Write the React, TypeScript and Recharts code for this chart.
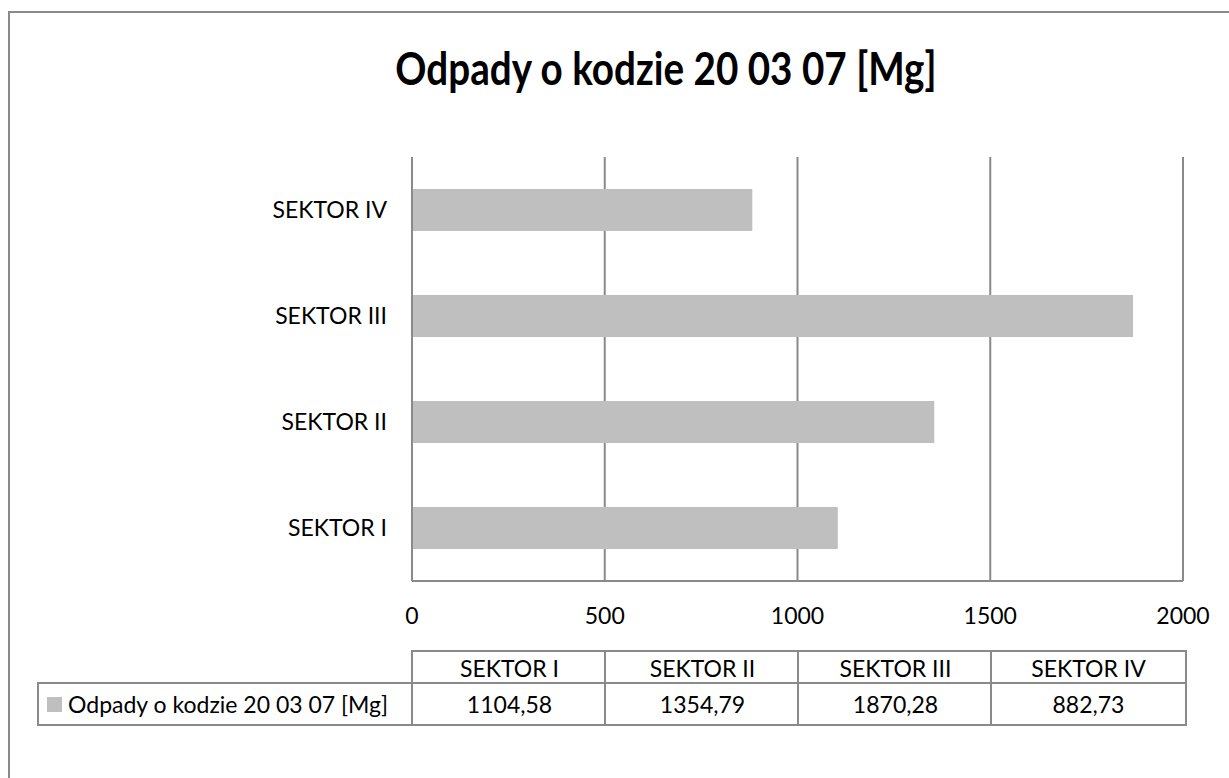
import { BarChart, Bar, XAxis, YAxis, CartesianGrid } from 'recharts';

const title = 'Odpady o kodzie 20 03 07 [Mg]';
const seriesName = 'Odpady o kodzie 20 03 07 [Mg]';
const sectors = ['SEKTOR I', 'SEKTOR II', 'SEKTOR III', 'SEKTOR IV'];
const values = [1104.58, 1354.79, 1870.28, 882.73];
const xTicks = [0, 500, 1000, 1500, 2000];

const data = sectors.map((name, i) => ({ name, value: values[i] }));

const font = 'Lato, "Open Sans", sans-serif';
const grid = '#8a8a8a';
const barColor = '#bfbfbf';

const fmt = (v: number) => v.toFixed(2).replace('.', ',');

// table columns line up with the gridlines
const plotLeft = 412;
const colW = 193;

export default function App() {
  return (
    <div
      style={{
        position: 'relative',
        width: 1229,
        height: 778,
        overflow: 'hidden',
        background: '#fff',
        fontFamily: font,
      }}
    >
      <style>{'html,body{margin:0;padding:0;overflow:hidden}'}</style>

      {/* chart frame, runs off the right and bottom of the page */}
      <div
        style={{
          position: 'absolute',
          left: 8,
          top: 11,
          width: 1400,
          height: 1000,
          borderLeft: `2px solid ${grid}`,
          borderTop: `2px solid ${grid}`,
        }}
      />

      <div
        style={{
          position: 'absolute',
          left: 0,
          top: 38,
          width: 1332,
          textAlign: 'center',
          fontSize: 46,
          fontWeight: 700,
          lineHeight: '60px',
          color: '#000',
          transform: 'scaleX(0.84)',
          transformOrigin: '666px 0',
        }}
      >
        {title}
      </div>

      <div style={{ position: 'absolute', left: 0, top: 0 }}>
        <BarChart
          width={1229}
          height={778}
          data={data}
          layout="vertical"
          margin={{ top: 157, right: 46, bottom: 157, left: plotLeft - 150 }}
        >
          <CartesianGrid horizontal={false} stroke={grid} strokeWidth={2} />
          <XAxis
            type="number"
            domain={[0, 2000]}
            ticks={xTicks}
            height={40}
            tickSize={0}
            tickMargin={27}
            axisLine={{ stroke: grid, strokeWidth: 2 }}
            tick={{ fill: '#000', fontSize: 23, fontFamily: font }}
          />
          <YAxis
            type="category"
            dataKey="name"
            reversed
            width={150}
            tickSize={0}
            tickMargin={25}
            axisLine={{ stroke: grid, strokeWidth: 2 }}
            tick={{ fill: '#000', fontSize: 23, fontFamily: font }}
          />
          <Bar dataKey="value" fill={barColor} barSize={42} isAnimationActive={false} />
        </BarChart>
      </div>

      {/* data table */}
      {sectors.map((s, i) => (
        <div
          key={'h' + s}
          style={{
            position: 'absolute',
            left: plotLeft + i * colW - 1,
            top: 650,
            width: colW,
            height: 32,
            border: `2px solid ${grid}`,
            borderBottom: 'none',
            borderRight: i === sectors.length - 1 ? `2px solid ${grid}` : 'none',
            textAlign: 'center',
            lineHeight: '32px',
            fontSize: 23,
            color: '#000',
          }}
        >
          {s}
        </div>
      ))}
      <div
        style={{
          position: 'absolute',
          left: 37,
          top: 682,
          width: plotLeft - 38,
          height: 40,
          border: `2px solid ${grid}`,
          borderRight: 'none',
          display: 'flex',
          alignItems: 'center',
          fontSize: 23,
          color: '#000',
          whiteSpace: 'nowrap',
        }}
      >
        <span
          style={{
            display: 'inline-block',
            width: 15,
            height: 15,
            background: barColor,
            marginLeft: 8,
            marginRight: 6,
          }}
        />
        {seriesName}
      </div>
      {values.map((v, i) => (
        <div
          key={'v' + i}
          style={{
            position: 'absolute',
            left: plotLeft + i * colW - 1,
            top: 682,
            width: colW,
            height: 40,
            border: `2px solid ${grid}`,
            borderRight: i === values.length - 1 ? `2px solid ${grid}` : 'none',
            textAlign: 'center',
            lineHeight: '40px',
            fontSize: 23,
            color: '#000',
          }}
        >
          {fmt(v)}
        </div>
      ))}
    </div>
  );
}
